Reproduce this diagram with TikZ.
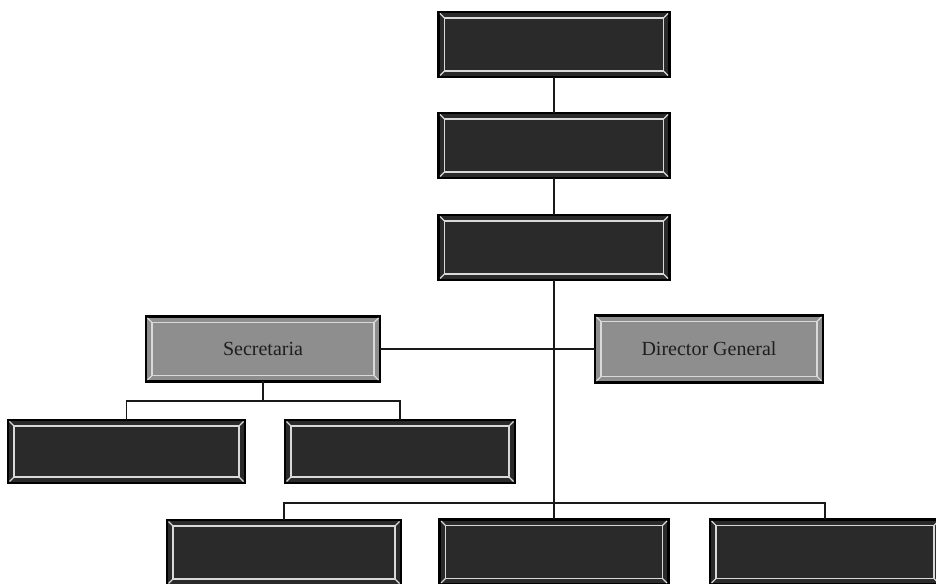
\documentclass[tikz,border=0pt]{standalone}
\usepackage{fontspec}
\setmainfont{Liberation Serif}
\definecolor{darkbox}{HTML}{2A2A2A}
\definecolor{greybox}{HTML}{8E8E8E}
\definecolor{boxtext}{HTML}{1E1E1E}
\tikzset{
  orgbox/.style={draw=black, line width=2.2pt, fill=darkbox, minimum width=#1, minimum height=65pt, inner sep=0pt, outer sep=0pt},
  orgbox/.default=231pt,
  lightbox/.style={orgbox=#1, fill=greybox, text=boxtext, font=\fontsize{20}{23}\selectfont},
  lightbox/.default=231pt,
  link/.style={draw=black!90, line width=1.8pt},
  bevel/.style={draw=white!85!black, line width=1.1pt}
}
\begin{document}
\begin{tikzpicture}[x=1pt,y=1pt]
\useasboundingbox[fill=white] (0,0) rectangle (936,583);
% top column
\node[orgbox=231pt] (top) at (554,538.5) {};
\node[orgbox=231pt] (second) at (554,437.5) {};
\node[orgbox=231pt] (third) at (554,335.5) {};
% middle row
\node[lightbox=234pt] (sec) at (263,234) {Secretaria};
\node[lightbox=228pt, minimum height=67pt] (dir) at (709,234) {Director General};
% left branch
\node[orgbox=237pt, minimum height=63pt] (l1) at (126.5,131.5) {};
\node[orgbox=230pt, minimum height=63pt] (l2) at (400,131.5) {};
% bottom row
\node[orgbox=234pt] (bl) at (284,30.5) {};
\node[orgbox=229pt] (bm) at (554,31) {};
\node[orgbox=230pt] (br) at (825,31) {};
% bevels
\foreach \n in {top,second,third,sec,dir,l1,l2,bl,bm,br}{
  \draw[bevel] ([shift={(6,6)}]\n.south west) rectangle ([shift={(-6,-6)}]\n.north east);
  \draw[bevel] ([shift={(1.5,1.5)}]\n.south west) -- ([shift={(6,6)}]\n.south west);
  \draw[bevel] ([shift={(-1.5,1.5)}]\n.south east) -- ([shift={(-6,6)}]\n.south east);
  \draw[bevel] ([shift={(1.5,-1.5)}]\n.north west) -- ([shift={(6,-6)}]\n.north west);
  \draw[bevel] ([shift={(-1.5,-1.5)}]\n.north east) -- ([shift={(-6,-6)}]\n.north east);
}
% connectors
\coordinate (secbus) at (263,182);
\coordinate (botbus) at (554,80);
\draw[link] (top.south) -- (second.north);
\draw[link] (second.south) -- (third.north);
\draw[link] (third.south) -- (bm.north);
\draw[link] (sec.east) -- (dir.west);
\draw[link] (sec.south) -- (secbus);
\draw[link] (l1.north) |- (secbus) -| (l2.north);
\draw[link] (bl.north) |- (botbus) -| (br.north);
\end{tikzpicture}
\end{document}
